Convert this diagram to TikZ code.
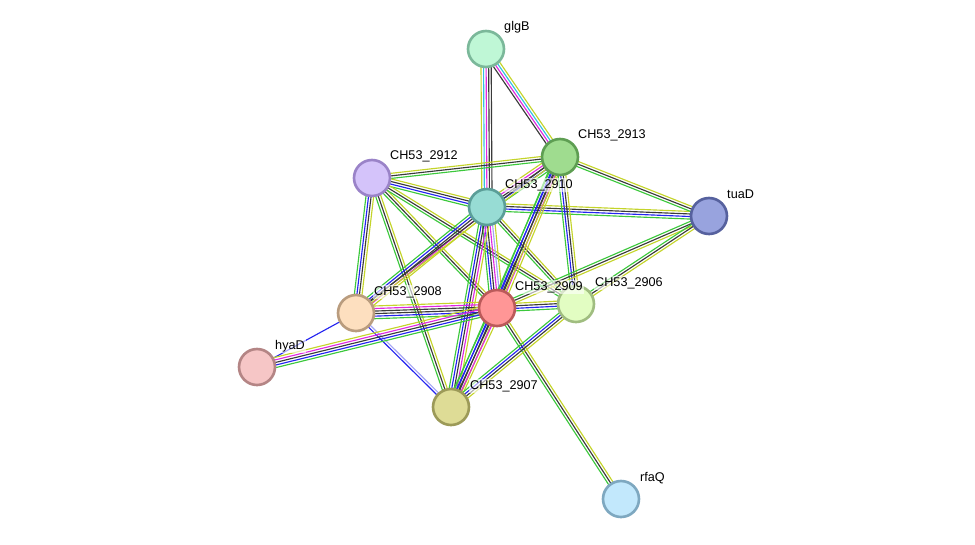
\documentclass[tikz,border=0pt]{standalone}
\usepackage{fontspec}
\setmainfont{Liberation Sans}
\usetikzlibrary{calc,backgrounds}
\definecolor{cgr}{HTML}{3CC83C}
\definecolor{cbl}{HTML}{2424F0}
\definecolor{cbk}{HTML}{3A3A3A}
\definecolor{cmg}{HTML}{E028E0}
\definecolor{ccy}{HTML}{34C0E0}
\definecolor{cyg}{HTML}{C4D42A}
\definecolor{clv}{HTML}{A4A4F4}
\tikzset{
  prot/.style={circle,draw,line width=1.5pt,minimum size=0.72cm,inner sep=0pt},
  lbl/.style={font=\fontsize{7.2}{8}\selectfont,anchor=west,inner sep=0.5pt,
    fill=white,fill opacity=0.6,text opacity=1},
  gr/.style={cgr,line width=0.65pt},
  bl/.style={cbl,line width=0.65pt},
  bk/.style={cbk,line width=0.65pt},
  mg/.style={cmg,line width=0.65pt},
  cy/.style={ccy,line width=0.65pt},
  yg/.style={cyg,line width=0.65pt},
  lv/.style={clv,line width=0.65pt},
}
% one interaction = bundle of parallel coloured lines
\newcommand\lnk[3]{%
  \foreach \c [count=\i] in {#3}{\xdef\nn{\i}}%
  \foreach \c [count=\i] in {#3}{%
    \pgfmathsetmacro\o{(\i-(\nn+1)/2)*1.45}%
    \draw[\c] ($(#1.center)!\o pt!90:(#2.center)$) -- ($(#2.center)!\o pt!-90:(#1.center)$);}}

\begin{document}
\begin{tikzpicture}[x=0.02cm,y=-0.02cm]
  \useasboundingbox (0,0) rectangle (975,545);
  % proteins
  \node[prot,fill={rgb,255:red,191;green,247;blue,214},draw={rgb,255:red,123;green,184;blue,154}] (glgB) at (486,49) {};
  \node[prot,fill={rgb,255:red,159;green,220;blue,143},draw={rgb,255:red,94;green,158;blue,82}] (p2913) at (560,157) {};
  \node[prot,fill={rgb,255:red,212;green,195;blue,250},draw={rgb,255:red,154;green,131;blue,200}] (p2912) at (372,178) {};
  \node[prot,fill={rgb,255:red,151;green,220;blue,212},draw={rgb,255:red,91;green,158;blue,152}] (p2910) at (487,207) {};
  \node[prot,fill={rgb,255:red,152;green,163;blue,222},draw={rgb,255:red,86;green,97;blue,158}] (tuaD) at (709,216) {};
  \node[prot,fill={rgb,255:red,253;green,223;blue,191},draw={rgb,255:red,185;green,156;blue,126}] (p2908) at (356,313) {};
  \node[prot,fill={rgb,255:red,255;green,150;blue,150},draw={rgb,255:red,187;green,90;blue,90}] (p2909) at (497,308) {};
  \node[prot,fill={rgb,255:red,226;green,253;blue,194},draw={rgb,255:red,160;green,189;blue,128}] (p2906) at (576,304) {};
  \node[prot,fill={rgb,255:red,246;green,198;blue,198},draw={rgb,255:red,180;green,133;blue,133}] (hyaD) at (257,367) {};
  \node[prot,fill={rgb,255:red,222;green,220;blue,150},draw={rgb,255:red,156;green,154;blue,88}] (p2907) at (451,407) {};
  \node[prot,fill={rgb,255:red,194;green,232;blue,252},draw={rgb,255:red,126;green,168;blue,192}] (rfaQ) at (621,499) {};
  % names
  \node[lbl] (tglgB) at (503,27) {glgB};
  \node[lbl] (t2913) at (577,135) {CH53\_2913};
  \node[lbl] (t2912) at (389,156) {CH53\_2912};
  \node[lbl] (t2910) at (504,185) {CH53\_2910};
  \node[lbl] (ttuaD) at (726,194) {tuaD};
  \node[lbl] (t2908) at (373,292) {CH53\_2908};
  \node[lbl] (t2909) at (514,287) {CH53\_2909};
  \node[lbl] (t2906) at (594,283) {CH53\_2906};
  \node[lbl] (thyaD) at (274,346) {hyaD};
  \node[lbl] (t2907) at (469,386) {CH53\_2907};
  \node[lbl] (trfaQ) at (639,478) {rfaQ};
  % interactions
  \begin{scope}[on background layer]
    \lnk{glgB}{p2910}{yg,cy,mg,bk,bk}
    \lnk{glgB}{p2913}{bk,mg,cy,yg}
    \lnk{p2912}{p2913}{gr,bk,yg}
    \lnk{p2912}{p2910}{gr,bl,bk,yg}
    \lnk{p2912}{p2908}{gr,bl,bk,yg}
    \lnk{p2912}{p2907}{gr,bk,yg}
    \lnk{p2912}{p2909}{gr,bk,yg}
    \lnk{p2912}{p2906}{gr,bk,yg}
    \lnk{p2910}{p2913}{gr,bl,bk,mg,yg}
    \lnk{p2910}{tuaD}{gr,bl,bk,yg}
    \lnk{p2910}{p2908}{gr,bl,bk,mg,yg}
    \lnk{p2910}{p2909}{gr,bl,bk,mg,lv,yg}
    \lnk{p2910}{p2907}{gr,bl,bk,mg,yg}
    \lnk{p2910}{p2906}{gr,bk,yg}
    \lnk{p2913}{tuaD}{gr,bk,yg}
    \lnk{p2913}{p2909}{gr,bl,bk,mg,yg}
    \lnk{p2913}{p2906}{gr,bl,bk,yg}
    \lnk{p2913}{p2907}{gr,bl,bk,yg}
    \lnk{p2913}{p2908}{bk,yg}
    \lnk{tuaD}{p2909}{gr,bk,yg}
    \lnk{tuaD}{p2906}{gr,bk,yg}
    \lnk{p2908}{p2909}{gr,bl,bk,bk,mg,yg}
    \lnk{p2908}{hyaD}{bl}
    \lnk{p2908}{p2907}{bl,lv}
    \lnk{hyaD}{p2909}{gr,bl,bk,mg,yg}
    \lnk{p2909}{p2906}{gr,bl,bk,yg}
    \lnk{p2909}{p2907}{gr,bl,bk,mg,yg}
    \lnk{p2909}{rfaQ}{gr,bk,yg}
    \lnk{p2906}{p2907}{gr,bl,bk,yg}
  \end{scope}
\end{tikzpicture}
\end{document}
